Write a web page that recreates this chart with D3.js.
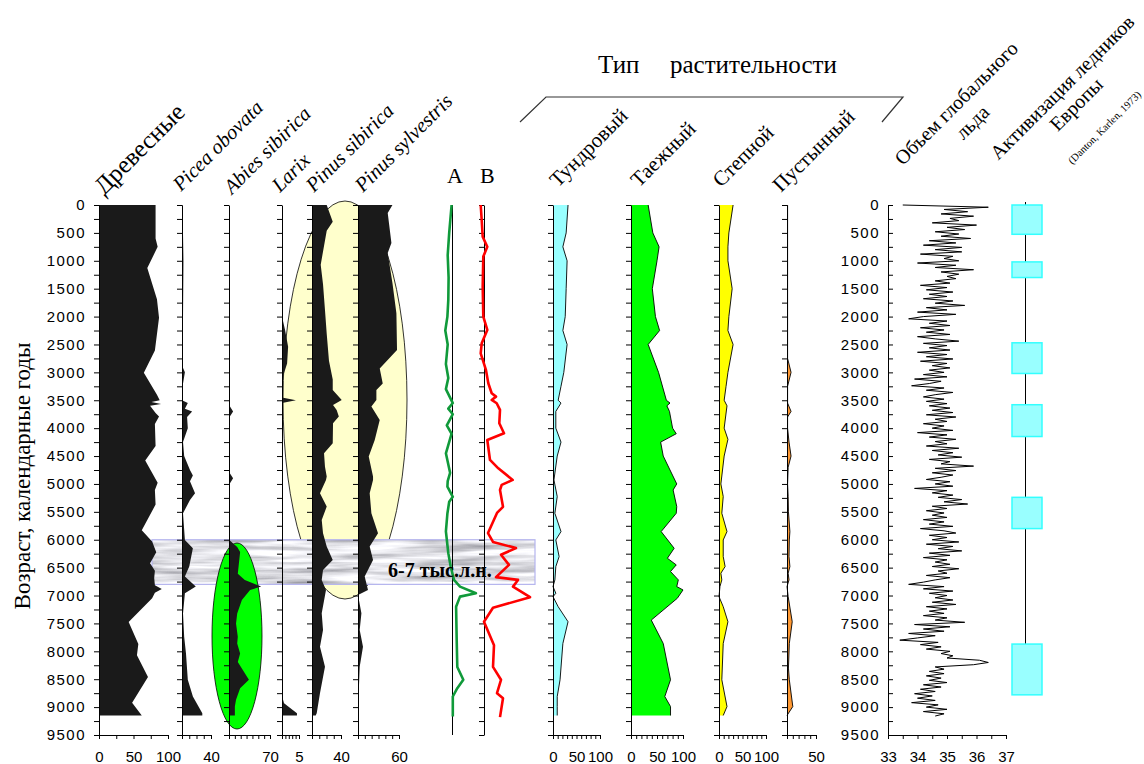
<!DOCTYPE html>
<html>
<head>
<meta charset="utf-8">
<script src="https://cdn.jsdelivr.net/npm/d3@7"></script>
<style>
body { margin: 0; background: #fff; }
</style>
</head>
<body>
<svg id="chart" width="1144" height="764"></svg>
<script>
// ages (cal. yr) and values
var treeAges = [0,600,750,1130,1690,2020,2610,3005,3400,3500,3530,3565,3600,3730,3790,3925,4320,4580,4980,5110,5370,5830,6030,6225,6420,6555,6686,6818,6885,6950,7050,7475,7870,8070,8460,8920,9150];
var treeVals = [82,82,85,70,84,87,81,65,84,88,76,90,74,82,87,81,82,67,85,81,82,62,77,83,74,81,80,81,91,81,77,43,57,55,71,48,62];

var piceaAges = [0,1000,2000,2900,3000,3200,3500,3550,3650,3700,3800,4000,4250,4500,4750,4850,4950,5167,5287,5526,6004,6153,6481,6660,6840,6960,7320,7740,8040,8510,8810,9110,9150];
var piceaVals = [0.7,2,1.4,0.7,4,1.4,0,8,4,14,7,8,1.4,3,11,15,11,18,11,1.4,4,15,10,4,19,4,1.4,3,5.5,8,15,28,28];

var abiesAges = [0,3000,3600,3700,3800,4800,4900,5000,6000,6130,6220,6610,6720,6840,6900,7080,7320,7500,7740,7860,8040,8190,8510,8660,8870,8990,9150];
var abiesVals = [0,0.9,0.9,7,0.9,0.9,7,0.9,0,14,19,15,27,55,36,22,14,12,15,14,19,15,34,19,12,10,10];

var larixAges = [0,2000,2240,2540,2840,3070,3300,3450,3500,3550,3700,8800,8930,9110,9150];
var larixVals = [0,0,0.9,1.8,1.5,0.3,0,0,4.1,0,0,0,0.6,4.4,4.4];

var pSibAges = [0,300,460,1070,1420,1880,2310,2790,3130,3315,3494,3584,3673,3793,3912,4270,4450,4690,4868,4928,5167,5406,5645,5884,6123,6362,6541,6720,6900,7318,7617,7916,8275,8753,9110,9150];
var pSibVals = [20.3,28.6,20.3,12,15.2,17.9,20.3,23.4,28.6,28.6,41,29,34,37,29,28.6,16.6,17.9,20.3,19.3,11,20.3,13.4,15.2,20.3,28.6,15.2,13.4,19.3,13.4,15.2,11,17.9,11,6.5,5.1];

var pSylAges = [0,143,680,860,1400,1940,2600,2930,3200,3315,3494,3614,3853,4212,4510,4868,4928,5167,5526,5884,6123,6362,6660,6900,6990,7318,7617,7916,8275,8753,9158];
var pSylVals = [50.4,43.5,48.9,43.5,50.4,56.2,57.1,31.8,36.2,26.9,26.9,19.6,31.8,24.5,15.7,22,22,17.1,19.6,29.3,17.1,22,9.8,14.6,0,5,2.5,7.3,2.5,1,1];

var aAges = [0,500,900,1300,1700,2000,2250,2500,2850,3100,3300,3550,3650,3750,3950,4100,4450,4800,4950,5050,5230,5320,5530,5850,6240,6480,6720,6840,6960,7020,7200,7800,8280,8510,8660,8810,9170];
var aVals = [-0.3,-1.1,-1.6,-1.3,-1.4,-1.7,-2.4,-1.6,-2.2,-1.4,-2.2,0.1,-1.4,0.1,-1.9,-0.3,-2.2,-0.8,-1.6,-1.7,0.1,-1.1,-1.7,-2.2,-1.4,-0.6,0.5,2.5,7.8,2.5,1.2,1.4,1.6,3.6,1.6,0.1,0.1];

var bAges = [0,270,570,750,925,1460,2000,2240,2480,2660,2960,3195,3375,3435,3494,3554,3673,3912,4092,4212,4570,4720,4928,5017,5108,5410,5520,5880,6040,6150,6270,6450,6670,6720,6840,7030,7220,7470,7890,8280,8510,8750,8840,9180];
var bVals = [-3.3,-2.3,-1.3,3.3,-0.7,-1.3,-0.7,3.3,-2.3,-3.3,2,4.3,7.7,12,7.7,12.7,16,15.3,20,3.3,6,14.3,28.7,17.7,16,19,13,4,9,32,17,25,12,34,29,46,9,0,10,9,17,13,19,16];

var tundraAges = [0,500,750,1000,1500,2000,2250,2500,3000,3250,3500,3550,3700,4000,4250,4500,4928,5227,5526,5854,6004,6302,6481,6720,6840,6960,7020,7200,7470,7860,8510,8810,8990,9150];
var tundraVals = [32,28,21,30,28,26,21,30,23,17,11,17,6,6,17,9,2,9,4,17,6,13,6,4,0,6,0,11,32,21,15,9,9,9];

var taigaAges = [0,500,750,1000,1500,2000,2250,2500,3000,3500,3550,3600,3700,4000,4100,4250,4500,5000,5108,5406,5526,5854,6153,6332,6451,6570,6720,6840,6900,7050,7440,7860,8510,8810,8990,9150];
var taigaVals = [33,42,54,50,41,47,55,33,53,68,75,69,74,80,87,57,62,88,81,88,87,58,83,70,87,76,91,88,100,89,39,62,76,65,76,76];

var steppeAges = [0,500,750,1000,1500,2000,2250,2500,3000,3250,3500,3600,4000,4200,4500,5000,5226,5526,5854,6004,6302,6481,6600,6720,6840,7020,7200,7470,7860,8510,8990,9150];
var steppeVals = [30,21,19,19,28,21,19,30,19,15,11,17,11,19,11,4,9,6,17,9,9,13,4,6,2,0,9,19,9,6,17,9];

var desertAges = [0,2750,3000,3250,3550,3700,3800,4000,4250,4500,4700,5000,5226,5500,5854,6004,6302,6481,6600,6720,6840,7020,7470,7860,8300,8510,8990,9150];
var desertVals = [1,1,7,1,1,7,1,1,3.5,7,2,1,2,2.5,5,4,3.5,5,2,3.5,0,2,9,4,2.5,4,10,0];

// global ice volume, one reading every 40 years from 0
var iceStep = 40;
var iceVals = [
  33.5,36.4,34.9,35.7,34.8,35.9,35.1,35.4,34.5,36.0,
  35.0,35.6,34.6,35.4,34.8,35.8,34.4,35.3,34.2,35.5,
  34.6,35.5,34.1,35.2,34.9,35.4,34.0,35.3,34.6,35.9,
  34.8,35.4,35.0,35.3,34.6,35.1,34.1,35.0,34.3,35.2,
  34.4,35.0,34.2,35.2,34.6,35.6,34.3,35.0,34.0,35.3,
  34.2,33.7,35.0,34.4,35.1,34.1,34.9,34.3,35.1,34.0,
  34.6,35.4,34.2,35.0,34.4,35.1,34.0,35.0,34.3,35.2,
  34.1,35.0,34.5,35.1,34.4,34.9,34.2,35.0,33.9,34.8,
  34.4,33.8,34.9,34.3,35.2,34.6,34.2,34.9,34.3,35.0,
  34.4,35.1,34.5,35.2,34.3,35.3,34.6,35.0,34.2,34.9,
  34.5,35.2,34.0,35.0,34.4,35.3,34.6,35.0,34.3,35.4,
  34.5,35.2,34.7,35.5,34.4,35.1,34.8,35.9,34.6,35.3,
  34.5,35.2,34.8,34.3,35.1,34.6,35.2,33.9,35.0,34.5,
  35.2,34.7,35.5,34.9,35.7,34.5,35.0,34.3,34.9,34.5,
  35.0,34.2,34.9,34.4,35.2,34.1,34.9,35.3,34.4,35.0,
  34.5,35.4,34.3,35.2,34.7,35.5,34.4,35.1,34.2,35.0,
  34.6,35.1,34.5,35.4,34.7,35.0,34.3,35.1,34.6,34.2,
  33.7,34.9,34.2,35.2,34.4,35.0,34.6,35.2,34.5,35.3,
  34.3,35.0,34.4,34.9,34.2,35.0,34.6,35.6,33.9,35.1,
  34.2,34.9,33.7,34.6,34.0,33.4,34.7,34.1,34.8,34.3,
  35.1,34.8,35.2,35.0,36.1,36.4,35.9,34.6,34.9,34.4,
  34.9,34.3,34.8,34.4,35.0,34.2,34.8,34.1,34.6,33.9,
  34.5,34.0,34.6,33.8,34.7,34.3,35.0,34.2,34.9,34.6
];

// activation of European glaciers (Denton, Karlen 1973)
var glacierStart = [0,1020,2470,3580,5240,7870];
var glacierEnd = [525,1300,3020,4150,5800,8780];

var bandFrom = 6000, bandTo = 6800;

var serif = '"Liberation Serif","Times New Roman",serif';
var sans = '"Liberation Sans",Arial,sans-serif';

var svg = d3.select("#chart");
var y = d3.scaleLinear().domain([0, 9500]).range([205, 735]);
var yTicks = d3.range(0, 9501, 250);

var defs = svg.append("defs");
var marble = defs.append("filter").attr("id", "marble")
	.attr("x", 0).attr("y", 0).attr("width", 1).attr("height", 1);
marble.append("feTurbulence").attr("type", "fractalNoise")
	.attr("baseFrequency", "0.012 0.16").attr("numOctaves", 3).attr("seed", 7).attr("result", "n");
marble.append("feColorMatrix").attr("in", "n").attr("type", "matrix")
	.attr("values", "-1.3 0 0 0 1.4  -1.3 0 0 0 1.4  -1.3 0 0 0 1.44  0 0 0 0 1")
	.attr("result", "g");
marble.append("feComposite").attr("in", "g").attr("in2", "SourceGraphic").attr("operator", "in");

function zip(a, v) { return a.map(function(d, i) { return [d, v[i]]; }); }

// background marks: yellow ellipse, band, green ellipse
svg.append("ellipse").attr("cx", 345).attr("cy", 400).attr("rx", 62).attr("ry", 199)
	.attr("fill", "#ffffcc").attr("stroke", "#000").attr("stroke-width", 0.8);

svg.append("rect").attr("x", 152).attr("y", y(bandFrom)).attr("width", 383).attr("height", y(bandTo) - y(bandFrom))
	.attr("fill", "#fff").attr("filter", "url(#marble)");
svg.append("rect").attr("x", 152).attr("y", y(bandFrom)).attr("width", 383).attr("height", y(bandTo) - y(bandFrom))
	.attr("fill", "none").attr("stroke", "#b4b4ee").attr("stroke-width", 1.2);

svg.append("ellipse").attr("cx", 237).attr("cy", 636).attr("rx", 25).attr("ry", 93)
	.attr("fill", "#00ff00").attr("stroke", "#000").attr("stroke-width", 0.8);

// percentage panels
var panels = [
	{ages: treeAges, vals: treeVals, dom: [0, 100], rng: [99, 168], fill: "#1a1a1a", ticks: [0,25,50,75,100], labels: [0,50,100], main: true},
	{ages: piceaAges, vals: piceaVals, dom: [0, 40], rng: [182, 211], fill: "#1a1a1a", ticks: [0,10,20,30,40], labels: [40]},
	{ages: abiesAges, vals: abiesVals, dom: [0, 70], rng: [229, 270], fill: "#1a1a1a", ticks: [0,10,20,30,40,50,60,70], labels: [70]},
	{ages: larixAges, vals: larixVals, dom: [0, 5], rng: [282, 299], fill: "#1a1a1a", ticks: [0,1,2,3,4,5], labels: [5]},
	{ages: pSibAges, vals: pSibVals, dom: [0, 40], rng: [312, 341], fill: "#1a1a1a", ticks: [0,10,20,30,40], labels: [40]},
	{ages: pSylAges, vals: pSylVals, dom: [0, 60], rng: [358, 399], fill: "#1a1a1a", ticks: [0,10,20,30,40,50,60], labels: [60]},
	{ages: tundraAges, vals: tundraVals, dom: [0, 100], rng: [553, 600], fill: "#99ffff", edge: true, ticks: d3.range(0, 101, 10), labels: [0,50,100]},
	{ages: taigaAges, vals: taigaVals, dom: [0, 100], rng: [631, 683], fill: "#00ff00", edge: true, ticks: d3.range(0, 101, 10), labels: [0,50,100]},
	{ages: steppeAges, vals: steppeVals, dom: [0, 100], rng: [719, 766], fill: "#ffff00", edge: true, ticks: d3.range(0, 101, 10), labels: [0,50,100]},
	{ages: desertAges, vals: desertVals, dom: [0, 50], rng: [787, 816], fill: "#ff9933", edge: true, ticks: d3.range(0, 51, 10), labels: [50]}
];

panels.forEach(function(p) {
	var x = d3.scaleLinear().domain(p.dom).range(p.rng);
	var pts = zip(p.ages, p.vals);
	var g = svg.append("g");
	g.append("path")
		.attr("d", d3.area().y(function(d) { return y(d[0]); }).x0(x(0)).x1(function(d) { return x(d[1]); })(pts))
		.attr("fill", p.fill);
	if (p.edge) {
		g.append("path")
			.attr("d", d3.line().y(function(d) { return y(d[0]); }).x(function(d) { return x(d[1]); })(pts))
			.attr("fill", "none").attr("stroke", "#000").attr("stroke-width", 0.9);
	}
	var ax = d3.axisLeft(y).tickValues(yTicks).tickSize(5).tickSizeOuter(0).tickPadding(8)
		.tickFormat(function(d) { return p.main && d % 500 === 0 ? String(d) : ""; });
	var ga = svg.append("g").attr("transform", "translate(" + p.rng[0] + ",0)").call(ax);
	ga.selectAll("text").attr("font-family", sans).attr("font-size", 15).attr("letter-spacing", 1.5).attr("fill", "#000");
	var bx = d3.axisBottom(x).tickValues(p.ticks).tickSize(4).tickSizeOuter(0).tickPadding(12)
		.tickFormat(function(d) { return p.labels.indexOf(d) >= 0 ? String(d) : ""; });
	var gb = svg.append("g").attr("transform", "translate(0," + y(9500) + ")").call(bx);
	gb.selectAll("text").attr("font-family", sans).attr("font-size", 15).attr("fill", "#000");
});

// A and B curves
var xa = d3.scaleLinear().domain([0, 10]).range([452.5, 482.5]);
var xb = d3.scaleLinear().domain([0, 50]).range([484, 534]);
svg.append("line").attr("x1", xa(0)).attr("x2", xa(0)).attr("y1", y(0)).attr("y2", y(9500)).attr("stroke", "#000");
svg.append("g").attr("transform", "translate(" + xb(0) + ",0)")
	.call(d3.axisLeft(y).tickValues(yTicks).tickSize(5).tickSizeOuter(0).tickFormat(""));
svg.append("path")
	.attr("d", d3.line().y(function(d) { return y(d[0]); }).x(function(d) { return xa(d[1]); })(zip(aAges, aVals)))
	.attr("fill", "none").attr("stroke", "#109a3a").attr("stroke-width", 2.6).attr("stroke-linejoin", "round");
svg.append("path")
	.attr("d", d3.line().y(function(d) { return y(d[0]); }).x(function(d) { return xb(d[1]); })(zip(bAges, bVals)))
	.attr("fill", "none").attr("stroke", "#ff0000").attr("stroke-width", 2.6).attr("stroke-linejoin", "round");

// global ice volume
var xi = d3.scaleLinear().domain([33, 37]).range([888, 1006]);
svg.append("g").attr("transform", "translate(" + xi(33) + ",0)")
	.call(d3.axisRight(y).tickValues(yTicks).tickSize(5).tickSizeOuter(0).tickFormat(""));
var gil = svg.append("g").attr("transform", "translate(" + xi(33) + ",0)")
	.call(d3.axisLeft(y).tickValues(d3.range(0, 9501, 500)).tickSize(0).tickPadding(8).tickFormat(String));
gil.select(".domain").remove();
gil.selectAll("text").attr("font-family", sans).attr("font-size", 15).attr("letter-spacing", 1.5).attr("fill", "#000");
var gib = svg.append("g").attr("transform", "translate(0," + y(9500) + ")")
	.call(d3.axisBottom(xi).tickValues(d3.range(33, 37.01, 0.5)).tickSize(4).tickSizeOuter(0).tickPadding(12)
		.tickFormat(function(d) { return d % 1 === 0 ? String(d) : ""; }));
gib.selectAll("text").attr("font-family", sans).attr("font-size", 15).attr("fill", "#000");
svg.append("path")
	.attr("d", d3.line().y(function(d, i) { return y(i * iceStep); }).x(function(d) { return xi(d); })(iceVals))
	.attr("fill", "none").attr("stroke", "#000").attr("stroke-width", 1);

// glacier activation
var gx = 1025.5;
svg.append("line").attr("x1", gx).attr("x2", gx).attr("y1", y(0) - 3).attr("y2", y(glacierStart[5])).attr("stroke", "#000");
svg.selectAll("rect.glacier").data(glacierStart).enter().append("rect").attr("class", "glacier")
	.attr("x", gx - 13.5).attr("width", 30)
	.attr("y", function(d) { return y(d); })
	.attr("height", function(d, i) { return y(glacierEnd[i]) - y(d); })
	.attr("fill", "#99ffff").attr("stroke", "#33ffff").attr("stroke-width", 1.5);

// titles
function rot(t, x, yy, size, opt) {
	opt = opt || {};
	svg.append("text").attr("transform", "translate(" + x + "," + yy + ") rotate(-45)")
		.attr("text-anchor", opt.anchor || "start")
		.attr("font-family", serif).attr("font-size", size)
		.attr("font-style", opt.italic ? "italic" : "normal").attr("fill", "#000").text(t);
}
rot("Древесные", 104, 196, 25);
rot("Picea obovata", 181, 192, 20.5, {italic: true});
rot("Abies sibirica", 232, 195, 20.5, {italic: true});
rot("Larix", 280, 193, 20.5, {italic: true});
rot("Pinus sibirica", 314, 193, 20.5, {italic: true});
rot("Pinus sylvestris", 363, 193, 20.5, {italic: true});
rot("Тундровый", 558, 188, 21);
rot("Таежный", 639, 188, 21);
rot("Степной", 721, 188, 21);
rot("Пустынный", 781, 193, 21);
rot("Объем глобального", 961, 108, 20, {anchor: "middle"});
rot("льда", 977, 127, 20, {anchor: "middle"});
rot("Активизация ледников", 1067, 92, 20, {anchor: "middle"});
rot("Европы", 1081, 109, 20, {anchor: "middle"});
rot("(Danton, Karlen, 1973)", 1107, 130, 10.5, {anchor: "middle"});

svg.append("text").attr("x", 447).attr("y", 183).attr("font-family", serif).attr("font-size", 22).text("A");
svg.append("text").attr("x", 480).attr("y", 183).attr("font-family", serif).attr("font-size", 22).text("B");
svg.append("text").attr("x", 598).attr("y", 73).attr("font-family", serif).attr("font-size", 25).text("Тип");
svg.append("text").attr("x", 670).attr("y", 73).attr("font-family", serif).attr("font-size", 25).text("растительности");
svg.append("path").attr("d", "M520,122 L546,97 L903,97 L882,122")
	.attr("fill", "none").attr("stroke", "#333").attr("stroke-width", 1.2);

svg.append("text").attr("transform", "translate(30,476) rotate(-90)").attr("text-anchor", "middle")
	.attr("font-family", serif).attr("font-size", 23).text("Возраст, календарные годы");

svg.append("text").attr("x", 388).attr("y", 577).attr("font-family", serif).attr("font-size", 20)
	.attr("font-weight", "bold").text("6-7 тыс.л.н.");
</script>
</body>
</html>
